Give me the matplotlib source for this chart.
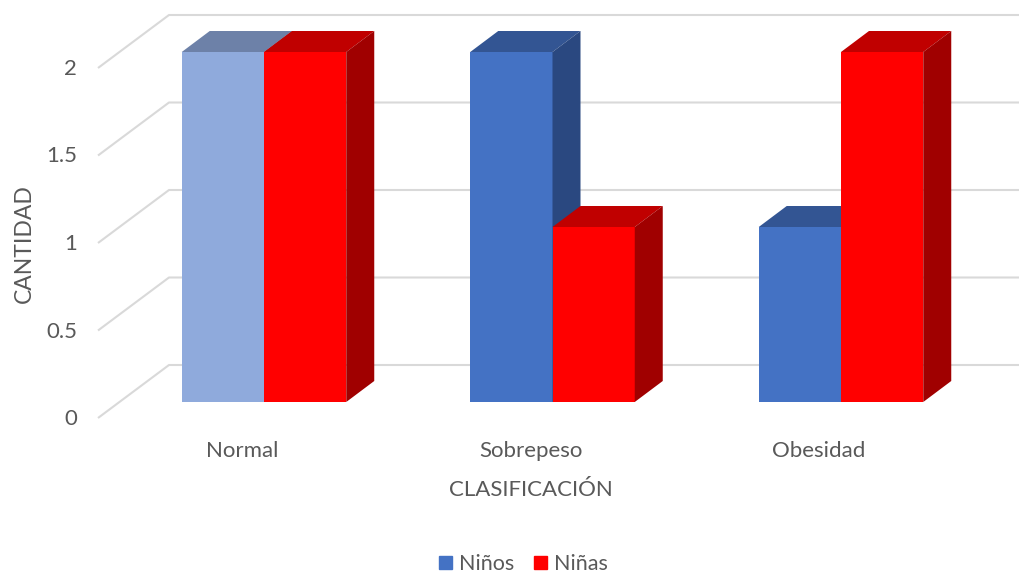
import matplotlib
matplotlib.use("Agg")
import matplotlib.pyplot as plt
from matplotlib.patches import Polygon, Patch

categories = ["Normal", "Sobrepeso", "Obesidad"]
ninos = [2, 2, 1]
ninas = [2, 1, 2]
y_ticks = [0, 0.5, 1, 1.5, 2]
y_tick_labels = ["0", "0.5", "1", "1.5", "2"]

W, H = 1020, 572
BAR_W = 82.25 / 288.5
DX = 28 / 288.5
DY = 21 / 175
TEXT = "#595959"
GRID = "#d9d9d9"

plt.rcParams["font.family"] = ["Lato", "DejaVu Sans"]

fig = plt.figure(figsize=(W / 100, H / 100), dpi=100)
ax = fig.add_axes([0, 0, 1, 1])
ax.set_xlim(-264 / 288.5, (W - 264) / 288.5)
ax.set_ylim((402 - H) / 175, 402 / 175)
ax.axis("off")

# floor and back wall lines, one per tick
for v in y_ticks:
    ax.plot([-166 / 288.5, -95 / 288.5, ax.get_xlim()[1]],
            [v - 16 / 175, v + 37 / 175, v + 37 / 175],
            color=GRID, lw=1.5, zorder=1, solid_capstyle="butt")


def box(x, h, front, top, side, z):
    # front face goes through bar(), depth faces are polygons on top of it
    ax.bar(x, h, BAR_W, align="edge", color=front, zorder=z)
    ax.add_patch(Polygon([(x, h), (x + DX, h + DY), (x + BAR_W + DX, h + DY), (x + BAR_W, h)],
                         closed=True, fc=top, ec="none", zorder=z))
    ax.add_patch(Polygon([(x + BAR_W, 0), (x + BAR_W + DX, DY), (x + BAR_W + DX, h + DY), (x + BAR_W, h)],
                         closed=True, fc=side, ec="none", zorder=z))


for i, cat in enumerate(categories):
    # first Niños bar is highlighted in a paler blue
    if i == 0:
        box(i - BAR_W, ninos[i], "#8faadc", "#6d81a8", "#5a6c90", 2 + i)
    else:
        box(i - BAR_W, ninos[i], "#4472c4", "#335593", "#2a4880", 2 + i)
    box(i, ninas[i], "#ff0000", "#c00000", "#a00000", 2.5 + i)
    ax.text(i - 22 / 288.5, -49 / 175, cat, color=TEXT, fontsize=16, ha="center", va="center")

for v, lab in zip(y_ticks, y_tick_labels):
    ax.text(-187 / 288.5, v - 17 / 175, lab, color=TEXT, fontsize=16, ha="right", va="center")

ax.text(530.5 / W, 1 - 490 / H, "CLASIFICACIÓN", color=TEXT, fontsize=16,
        ha="center", va="center", transform=ax.transAxes)
ax.text(24 / W, 1 - 243.5 / H, "CANTIDAD", color=TEXT, fontsize=16.5, rotation=90,
        ha="center", va="center", transform=ax.transAxes)

handles = [Patch(color="#4472c4", label="Niños"), Patch(color="#ff0000", label="Niñas")]
ax.legend(handles=handles, loc="center", bbox_to_anchor=(523.5 / W, 1 - 564 / H),
          ncol=2, frameon=False, fontsize=15.5, labelcolor=TEXT,
          handlelength=0.6, handleheight=0.6, handletextpad=0.35, columnspacing=0.9,
          borderpad=0, borderaxespad=0)

fig.savefig("out.png", dpi=100)
